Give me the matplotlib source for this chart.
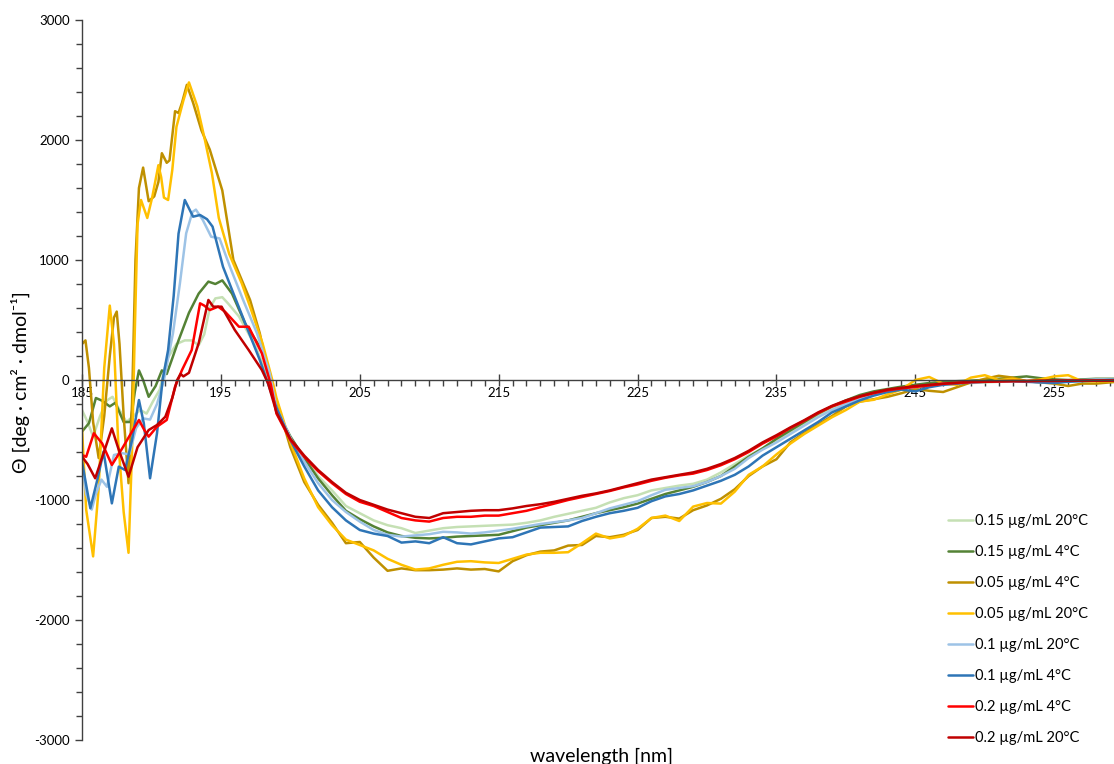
import matplotlib
matplotlib.use("Agg")
import matplotlib.pyplot as plt
import numpy as np
from matplotlib.ticker import MultipleLocator, FixedLocator

plt.rcParams['font.family'] = ['Lato', 'DejaVu Sans']
plt.rcParams['axes.unicode_minus'] = False

labels = ["0.15 µg/mL 20°C", "0.15 µg/mL 4°C", "0.05 µg/mL 4°C", "0.05 µg/mL 20°C",
          "0.1 µg/mL 20°C", "0.1 µg/mL 4°C", "0.2 µg/mL 4°C", "0.2 µg/mL 20°C"]
colors = ["#C5E0B4", "#548235", "#BF9000", "#FFC000", "#9DC3E6", "#2E75B6", "#FF0000", "#C00000"]

# ---- early region (185-198.x nm), per-series sample points ----
lg15_20_x = [185, 185.4, 185.8, 186.3, 186.8, 187.2, 187.7, 188.2, 188.7, 189.2, 189.65, 190.1, 190.6, 191.1, 191.8, 192.4, 192.9, 193.4, 193.8, 194.2, 194.6, 195.1, 195.5, 196.3, 197.5, 198.3]
lg15_20_y = [-250, -350, -470, -300, -170, -140, -250, -350, -300, -250, -280, -180, -80, 170, 300, 330, 330, 290, 380, 600, 680, 690, 640, 530, 280, 50]

g15_4_x = [185, 185.5, 186, 186.4, 187, 187.4, 188, 188.5, 188.8, 189.1, 189.4, 189.8, 190.3, 190.75, 191.1, 191.5, 191.95, 192.7, 193.4, 194.1, 194.6, 195.1, 195.8, 196.75, 197.95, 198.5]
g15_4_y = [-430, -360, -150, -170, -220, -190, -350, -350, -100, 80, 0, -140, -50, 80, 50, 180, 330, 560, 720, 820, 800, 830, 720, 470, 250, 60]

au05_4_x = [185, 185.25, 185.5, 185.8, 186.2, 186.6, 187.0, 187.3, 187.5, 187.7, 188.0, 188.35, 188.6, 188.85, 189.1, 189.4, 189.8, 190.2, 190.5, 190.75, 191.1, 191.3, 191.7, 191.95, 192.2, 192.55, 193.0, 193.6, 194.2, 195.1, 195.9, 197.1, 197.8, 198.5]
au05_4_y = [300, 330, 100, -350, -650, -300, 200, 520, 570, 300, -300, -860, -200, 1000, 1600, 1770, 1490, 1530, 1650, 1890, 1810, 1830, 2240, 2225, 2310, 2460, 2310, 2080, 1920, 1580, 1000, 667, 389, 20]

y05_20_x = [185, 185.3, 185.8, 186.2, 186.6, 187.0, 187.3, 187.6, 188.0, 188.35, 188.6, 188.8, 189.0, 189.25, 189.7, 190.05, 190.5, 190.7, 190.9, 191.2, 191.5, 191.8, 192.3, 192.7, 193.3, 193.85, 194.35, 194.85, 195.6, 196.5, 197.1, 198.0, 198.7]
y05_20_y = [-400, -1080, -1470, -900, 100, 620, 300, -500, -1100, -1440, -600, 400, 1300, 1500, 1350, 1520, 1790, 1690, 1520, 1500, 1750, 2110, 2330, 2480, 2280, 2000, 1725, 1350, 1050, 806, 611, 305, 0]

lb1_20_x = [185, 185.3, 185.7, 186.0, 186.4, 186.8, 187.3, 187.9, 188.4, 188.9, 189.4, 189.9, 190.4, 190.9, 191.55, 192.05, 192.5, 192.95, 193.2, 193.7, 194.3, 194.9, 195.65, 196.6, 197.6, 198.5]
lb1_20_y = [-700, -950, -1080, -950, -830, -890, -625, -610, -620, -400, -320, -330, -200, 0, 390, 806, 1222, 1400, 1420, 1333, 1194, 1180, 944, 667, 389, 60]

b1_4_x = [185, 185.6, 186.1, 186.55, 187.15, 187.65, 188.1, 188.6, 189.1, 189.45, 189.9, 190.4, 190.8, 191.2, 191.6, 191.95, 192.4, 193.0, 193.5, 194.0, 194.4, 195.15, 195.9, 196.85, 197.8, 198.3]
b1_4_y = [-680, -1069, -833, -597, -1028, -722, -750, -500, -167, -361, -819, -444, 0, 250, 700, 1220, 1500, 1361, 1375, 1340, 1278, 944, 722, 444, 167, 0]

r2_4_x = [185, 185.3, 185.85, 186.45, 187.15, 187.9, 188.5, 189.1, 189.5, 189.8, 190.4, 191.1, 191.7, 192.2, 192.9, 193.5, 193.8, 194.2, 194.8, 195.3, 196.3, 197.0, 197.95, 198.6]
r2_4_y = [-625, -640, -444, -528, -708, -569, -450, -333, -420, -472, -389, -333, -56, 83, 250, 639, 620, 583, 611, 569, 444, 444, 222, -40]

dr2_20_x = [185, 185.4, 185.95, 186.55, 187.15, 187.65, 188.35, 189.0, 189.8, 190.4, 191.0, 191.5, 191.85, 192.1, 192.3, 192.7, 193.4, 194.1, 194.45, 195.05, 196.0, 197.0, 197.95, 198.4]
dr2_20_y = [-639, -700, -819, -611, -403, -583, -806, -560, -417, -375, -306, -150, 0, 50, 30, 60, 306, 667, 611, 611, 417, 250, 83, -28]

# ---- late region (199-260 nm), common 1 nm grid ----
late_wl = list(range(199, 261))

lg15_20_late = [-250, -480, -650, -800, -920, -1050, -1110, -1170, -1210, -1235, -1275, -1255, -1235, -1225, -1220, -1215, -1210, -1205, -1190, -1170, -1140, -1115, -1090, -1065, -1020, -985, -960, -920, -900, -880, -865, -830, -770, -700, -630, -570, -500, -430, -370, -300, -240, -190, -150, -110, -85, -70, -55, -45, -35, -30, -25, -20, -15, -10, -10, -10, -5, -5, -5, -5, -5, -5]
g15_4_late = [-250, -470, -650, -820, -960, -1090, -1160, -1220, -1270, -1300, -1315, -1320, -1315, -1305, -1300, -1295, -1290, -1260, -1230, -1210, -1190, -1170, -1140, -1110, -1085, -1060, -1030, -990, -950, -920, -890, -850, -800, -720, -640, -570, -490, -420, -350, -280, -220, -170, -125, -95, -75, -55, -40, -25, -15, -10, -5, 0, 10, 20, 30, 15, 5, 0, 5, 10, 10, 10]
au05_4_late = [-170, -560, -850, -1040, -1190, -1360, -1350, -1480, -1590, -1570, -1585, -1585, -1580, -1570, -1580, -1575, -1595, -1510, -1460, -1430, -1420, -1380, -1375, -1300, -1310, -1290, -1250, -1150, -1140, -1155, -1085, -1045, -990, -910, -800, -720, -660, -520, -440, -370, -300, -220, -180, -160, -140, -110, -75, -90, -100, -60, -20, 10, 35, 20, -10, -20, -30, -50, -30, -30, -20, -10]
y05_20_late = [-150, -520, -820, -1060, -1210, -1330, -1375, -1420, -1490, -1540, -1580, -1570, -1540, -1515, -1510, -1520, -1525, -1490, -1455, -1440, -1440, -1435, -1360, -1280, -1320, -1300, -1240, -1150, -1130, -1175, -1055, -1025, -1030, -930, -790, -720, -620, -530, -450, -380, -310, -250, -180, -165, -120, -80, 0, 25, -30, -40, 20, 40, 0, 10, -10, 5, 30, 40, -10, -10, -10, 0]
lb1_20_late = [-230, -480, -680, -860, -1000, -1100, -1180, -1250, -1290, -1305, -1295, -1285, -1265, -1270, -1280, -1270, -1255, -1240, -1220, -1200, -1185, -1170, -1150, -1110, -1070, -1040, -1010, -960, -915, -900, -885, -850, -800, -740, -650, -580, -520, -450, -380, -310, -250, -200, -160, -120, -90, -70, -60, -45, -30, -25, -20, -15, -10, -10, -10, -20, -10, -5, 0, 5, 5, 0]
b1_4_late = [-230, -500, -720, -920, -1060, -1170, -1250, -1280, -1300, -1355, -1345, -1360, -1310, -1360, -1370, -1345, -1320, -1310, -1270, -1230, -1225, -1220, -1175, -1140, -1110, -1090, -1065, -1010, -970, -950, -920, -880, -840, -790, -720, -630, -560, -490, -420, -350, -270, -220, -170, -130, -100, -80, -95, -60, -40, -30, -20, -15, -10, -10, -15, -20, -25, -15, -10, -5, 0, 0]
r2_4_late = [-280, -500, -640, -760, -860, -950, -1015, -1050, -1100, -1150, -1170, -1180, -1150, -1140, -1140, -1130, -1130, -1110, -1090, -1060, -1030, -1000, -975, -950, -925, -895, -870, -840, -815, -795, -780, -750, -710, -660, -600, -530, -470, -400, -340, -275, -220, -180, -140, -110, -85, -70, -58, -45, -32, -25, -18, -15, -12, -10, -10, -8, -8, -6, -5, -5, -5, -5]
dr2_20_late = [-270, -490, -630, -750, -850, -940, -1000, -1040, -1080, -1110, -1140, -1150, -1110, -1100, -1090, -1085, -1085, -1070, -1050, -1035, -1015, -990, -965, -945, -920, -890, -860, -830, -810, -790, -770, -740, -700, -650, -590, -520, -460, -395, -335, -270, -215, -170, -135, -105, -80, -65, -50, -40, -30, -22, -15, -12, -10, -8, -8, -6, -6, -5, -5, -5, -5, -5]

early_x = [lg15_20_x, g15_4_x, au05_4_x, y05_20_x, lb1_20_x, b1_4_x, r2_4_x, dr2_20_x]
early_y = [lg15_20_y, g15_4_y, au05_4_y, y05_20_y, lb1_20_y, b1_4_y, r2_4_y, dr2_20_y]
late_y = [lg15_20_late, g15_4_late, au05_4_late, y05_20_late, lb1_20_late, b1_4_late, r2_4_late, dr2_20_late]

fig = plt.figure(figsize=(11.14, 7.64), dpi=100)
ax = fig.add_axes([82/1114, 1-740/764, 1-82/1114, (740-20)/764])

for ex, ey, ly, lab, col in zip(early_x, early_y, late_y, labels, colors):
    xs = list(ex) + late_wl
    ys = list(ey) + ly
    ax.plot(xs, ys, color=col, lw=1.8, label=lab, solid_joinstyle='round', solid_capstyle='round')

ax.set_xlim(185, 259.3)
ax.set_ylim(-3000, 3000)
ax.spines['top'].set_visible(False)
ax.spines['right'].set_visible(False)
ax.spines['bottom'].set_position(('data', 0))
for s in ('left', 'bottom'):
    ax.spines[s].set_color('#404040')
    ax.spines[s].set_linewidth(1.0)

ax.xaxis.set_major_locator(FixedLocator(list(range(185, 260, 10))))
ax.xaxis.set_minor_locator(MultipleLocator(1))
ax.yaxis.set_major_locator(MultipleLocator(1000))
ax.yaxis.set_minor_locator(MultipleLocator(200))
ax.tick_params(axis='x', which='major', direction='inout', length=8, width=1, color='#404040',
               labelsize=9.5, pad=1, labelcolor='#000000')
ax.tick_params(axis='x', which='minor', direction='out', length=4, width=1, color='#404040')
ax.tick_params(axis='y', which='major', direction='out', length=5, width=1, color='#404040',
               labelsize=9.5, pad=4)
ax.tick_params(axis='y', which='minor', direction='out', length=4, width=1, color='#404040')

fig.text(20/1114, 1-382/764, "Θ [deg · cm² · dmol⁻¹]", rotation=90, ha='center', va='center', fontsize=14)
fig.text(602/1114, 1-756/764, "wavelength [nm]", ha='center', va='center', fontsize=14)

leg = ax.legend(loc='upper left', bbox_to_anchor=(948/1114, 1-514/764), bbox_transform=fig.transFigure,
                frameon=False, fontsize=10.5, handlelength=1.7, handletextpad=0.15, labelspacing=1.17,
                borderpad=0, borderaxespad=0)

fig.savefig("out.png", dpi=100)
